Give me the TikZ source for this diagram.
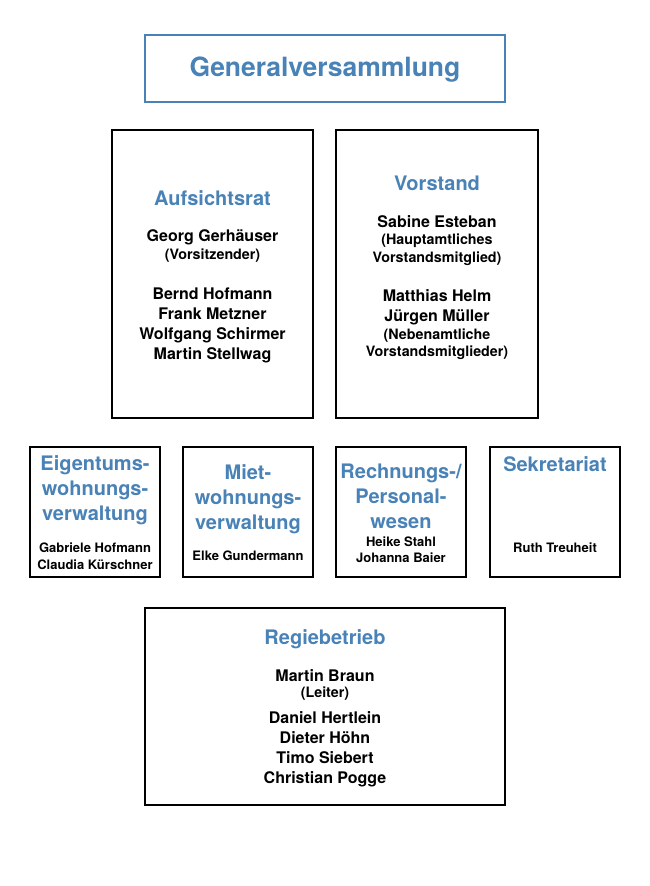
\documentclass[tikz,border=0pt]{standalone}
\usepackage{fontspec}
\setmainfont{TeX Gyre Heros}
\definecolor{gvblue}{RGB}{72,130,182}
\tikzset{
  box/.style={draw=black,line width=1.6pt,inner sep=0pt,outer sep=0pt},
  head/.style={text=gvblue,font=\bfseries\fontsize{20}{25}\selectfont,align=center,inner sep=0pt},
  pers/.style={font=\bfseries\fontsize{16}{20}\selectfont,align=center,inner sep=0pt},
  role/.style={font=\bfseries\fontsize{14.3}{17.5}\selectfont,align=center,inner sep=0pt},
  small/.style={font=\bfseries\fontsize{13}{17}\selectfont,align=center,inner sep=0pt}
}
\begin{document}
\begin{tikzpicture}[x=1pt,y=-1pt]
  \useasboundingbox (0,0) rectangle (650,886);
  % Generalversammlung
  \node [box,draw=gvblue,minimum width=360,minimum height=67] (GV) at (325,68.5) {};
  \node [head,font=\bfseries\fontsize{26.5}{30}\selectfont] (GVt) at (325,70) {Generalversammlung};
  % Aufsichtsrat
  \node [box,minimum width=201,minimum height=288] (AR) at (212.5,274) {};
  \node [head] (ARt) at (212.5,198) {Aufsichtsrat};
  \node [pers] (AR1) at (212.5,237) {Georg Gerhäuser};
  \node [role] (AR1r) at (212.5,256) {(Vorsitzender)};
  \node [pers] (AR2) at (212.5,325) {Bernd Hofmann\\Frank Metzner\\Wolfgang Schirmer\\Martin Stellwag};
  % Vorstand
  \node [box,minimum width=202,minimum height=288] (VS) at (437,274) {};
  \node [head] (VSt) at (437,183) {Vorstand};
  \node [pers] (VS1) at (437,222) {Sabine Esteban};
  \node [role] (VS1r) at (437,249.5) {(Hauptamtliches\\Vorstandsmitglied)};
  \node [pers] (VS2) at (437,307) {Matthias Helm\\Jürgen Müller};
  \node [role] (VS2r) at (437,344) {(Nebenamtliche\\Vorstandsmitglieder)};
  % Abteilungen
  \node [box,minimum width=130,minimum height=130] (EW) at (95,512) {};
  \node [head] (EWt) at (95,490) {Eigentums-\\wohnungs-\\verwaltung};
  \node [small] (EWp) at (95,556) {Gabriele Hofmann\\Claudia Kürschner};
  \node [box,minimum width=130,minimum height=130] (MW) at (248,512) {};
  \node [head] (MWt) at (248,499.5) {Miet-\\wohnungs-\\verwaltung};
  \node [small] (MWp) at (248,556) {Elke Gundermann};
  \node [box,minimum width=130,minimum height=130] (RP) at (401,512) {};
  \node [head] (RPt) at (401,496) {Rechnungs-/\\Personal-\\wesen};
  \node [small,font=\bfseries\fontsize{13}{16}\selectfont] (RPp) at (401,550) {Heike Stahl\\Johanna Baier};
  \node [box,minimum width=130,minimum height=130] (SK) at (555,512) {};
  \node [head] (SKt) at (555,464) {Sekretariat};
  \node [small] (SKp) at (555,548) {Ruth Treuheit};
  % Regiebetrieb
  \node [box,minimum width=360,minimum height=197] (RB) at (325,706.5) {};
  \node [head] (RBt) at (325,639) {Regiebetrieb};
  \node [pers] (RB1) at (325,676) {Martin Braun};
  \node [role] (RB1r) at (325,694) {(Leiter)};
  \node [pers] (RB2) at (325,749) {Daniel Hertlein\\Dieter Höhn\\Timo Siebert\\Christian Pogge};
\end{tikzpicture}
\end{document}
